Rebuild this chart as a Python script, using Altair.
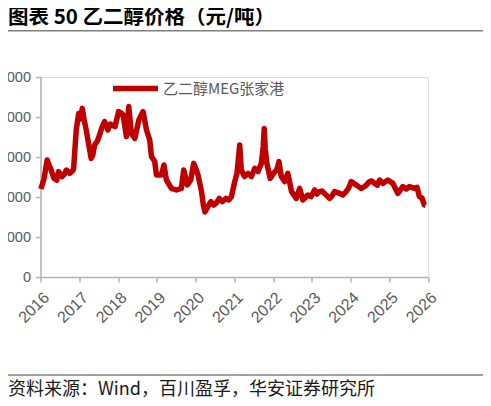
import altair as alt
import pandas as pd

dates = [
    "2016-01-04", "2016-02-03", "2016-03-04", "2016-03-22", "2016-04-05", "2016-05-07",
    "2016-06-02", "2016-06-20", "2016-07-22", "2016-08-15", "2016-09-01", "2016-10-02",
    "2016-10-28", "2016-11-08", "2016-11-20", "2016-12-03", "2016-12-26",
    "2017-01-12", "2017-01-29", "2017-02-14", "2017-03-07", "2017-03-26", "2017-04-23",
    "2017-05-08", "2017-05-25", "2017-06-20", "2017-07-11", "2017-07-30", "2017-08-27",
    "2017-09-27", "2017-10-20", "2017-11-03", "2017-12-04",
    "2018-01-06", "2018-01-30", "2018-02-18", "2018-03-21", "2018-04-12", "2018-05-07",
    "2018-06-08", "2018-07-16", "2018-08-25", "2018-09-26", "2018-10-27", "2018-11-12",
    "2018-12-13", "2018-12-29",
    "2019-02-14", "2019-03-10", "2019-04-02", "2019-05-19", "2019-07-05", "2019-08-21",
    "2019-09-12", "2019-10-16", "2019-11-17", "2019-12-15",
    "2020-01-10", "2020-01-25", "2020-02-10", "2020-02-26", "2020-03-15", "2020-03-30",
    "2020-04-20", "2020-05-25", "2020-06-20", "2020-07-15", "2020-08-12", "2020-09-10",
    "2020-10-15", "2020-11-10", "2020-12-05",
    "2021-01-05", "2021-01-26", "2021-02-21", "2021-03-08", "2021-04-08", "2021-05-10",
    "2021-06-11", "2021-07-12", "2021-08-12", "2021-09-13", "2021-09-30", "2021-10-10",
    "2021-10-20", "2021-11-04", "2021-12-05",
    "2022-01-05", "2022-02-05", "2022-02-26", "2022-03-20", "2022-04-20", "2022-05-20",
    "2022-06-25", "2022-08-08", "2022-09-09", "2022-10-09", "2022-11-25", "2022-12-25",
    "2023-01-28", "2023-02-20", "2023-03-16", "2023-04-10", "2023-05-01", "2023-06-18",
    "2023-07-10", "2023-08-04", "2023-09-21", "2023-10-20", "2023-11-21", "2023-12-15",
    "2024-01-08", "2024-02-25", "2024-04-12", "2024-05-20", "2024-06-28", "2024-07-20",
    "2024-08-15", "2024-09-10", "2024-10-01", "2024-11-01", "2024-12-18",
    "2025-02-04", "2025-03-23", "2025-05-08", "2025-06-10", "2025-07-09", "2025-08-26",
    "2025-09-20", "2025-10-12", "2025-11-05", "2025-11-28", "2025-12-10",
]
values = [
    4400, 4900, 5850, 5600, 5430, 4930,
    4850, 5270, 5020, 5150, 5350, 5180,
    5300, 5400, 6350, 7350, 8180,
    7900, 8430, 7900, 7350, 6770, 5930,
    6100, 6600, 6800, 7100, 7430, 7770,
    7350, 7650, 7600, 7520,
    8270, 8200, 8100, 7020, 8520, 7180,
    6930, 7850, 8270, 7350, 6850, 6020,
    5770, 5100,
    5100, 5600, 4850, 4430, 4350, 4430,
    5350, 4600, 4850, 5680,
    5350, 5100, 4700, 4300, 3600, 3250,
    3450, 3770, 3600, 3700, 3930, 3770,
    3930, 3850, 4020,
    4770, 5180, 6600, 5350, 5020, 5180,
    5020, 5430, 5270, 5680, 6500, 7430,
    6400, 5680, 4930,
    5180, 5350, 5770, 5020, 4770, 5180,
    4270, 3930, 4430, 3850, 4100, 4020,
    4350, 4150, 4270, 4300, 4180, 3930,
    4050, 4270, 4180, 4100, 4270, 4450,
    4770, 4600, 4430, 4550, 4770, 4800,
    4680, 4600, 4850, 4680, 4850,
    4680, 4180, 4520, 4400, 4520, 4430,
    4480, 4020, 3950, 3600, 3580,
]
series_name = "乙二醇MEG张家港"
y_ticks = [0, 2000, 4000, 6000, 8000, 10000]
title_text = "图表 50 乙二醇价格（元/吨）"
source_text = "资料来源：Wind，百川盈孚，华安证券研究所"

df = pd.DataFrame({"date": dates, "value": values, "series": series_name})

W, H = 387.5, 200
PL, PT = 32.5, 69

line = alt.Chart(df).mark_line(strokeWidth=5.5, strokeJoin="round").encode(
    x=alt.X(
        "date:T",
        scale=alt.Scale(domain=[alt.DateTime(year=2016, month=1, date=1),
                                alt.DateTime(year=2026, month=1, date=1)]),
        axis=alt.Axis(
            title=None, format="%Y", tickCount={"interval": "year", "step": 1},
            labelAngle=-45, labelFontSize=16, labelColor="#595959",
            labelFont="Liberation Sans", grid=False, domainColor="#B3B3B3",
            tickColor="#B3B3B3", tickSize=5, domainWidth=1.5, tickWidth=1.5,
            labelPadding=7, labelFlush=False, labelOverlap=False,
        ),
    ),
    y=alt.Y(
        "value:Q",
        scale=alt.Scale(domain=[0, 10000], nice=False),
        axis=alt.Axis(
            title=None, values=y_ticks, labelFontSize=14.5, labelColor="#595959",
            labelFont="Liberation Sans", grid=False, domainColor="#B3B3B3",
            tickColor="#B3B3B3", tickSize=5, domainWidth=1.5, tickWidth=1.5,
            labelPadding=5,
        ),
    ),
    color=alt.Color(
        "series:N",
        scale=alt.Scale(range=["#C00000"]),
        legend=alt.Legend(
            title=None, orient="none", legendX=69.5, legendY=-14, padding=0,
            symbolType="stroke", symbolSize=2025, symbolStrokeWidth=5.5,
            labelFontSize=15, labelColor="#595959", labelFont="Noto Sans CJK SC",
            labelOffset=2,
        ),
    ),
)

title = alt.Chart(pd.DataFrame({"t": [title_text]})).mark_text(
    align="left", baseline="alphabetic", fontSize=20.5, fontWeight="bold",
    font="Noto Sans CJK SC", color="#000000",
).encode(x=alt.value(-PL), y=alt.value(-53), text="t:N")

source = alt.Chart(pd.DataFrame({"t": [source_text]})).mark_text(
    align="left", baseline="alphabetic", fontSize=18,
    font="Noto Sans CJK SC", color="#1a1a1a",
).encode(x=alt.value(-PL), y=alt.value(318), text="t:N")

top_rule = alt.Chart(pd.DataFrame({"a": [0]})).mark_rule(
    color="#7f7f7f", strokeWidth=1.5
).encode(x=alt.value(-PL), x2=alt.value(W + 55), y=alt.value(-46.3))

bottom_rule = alt.Chart(pd.DataFrame({"a": [0]})).mark_rule(
    color="#7f7f7f", strokeWidth=1.5
).encode(x=alt.value(-PL), x2=alt.value(W + 55), y=alt.value(298))

chart = alt.layer(line, title, source, top_rule, bottom_rule).properties(
    width=W, height=H,
    autosize=alt.AutoSizeParams(type="none"),
    padding={"left": PL, "top": PT, "right": 55, "bottom": 121},
).configure_view(stroke=None).configure(background="#ffffff")

chart.save("out.html", embed_options={"renderer": "svg", "actions": False})
